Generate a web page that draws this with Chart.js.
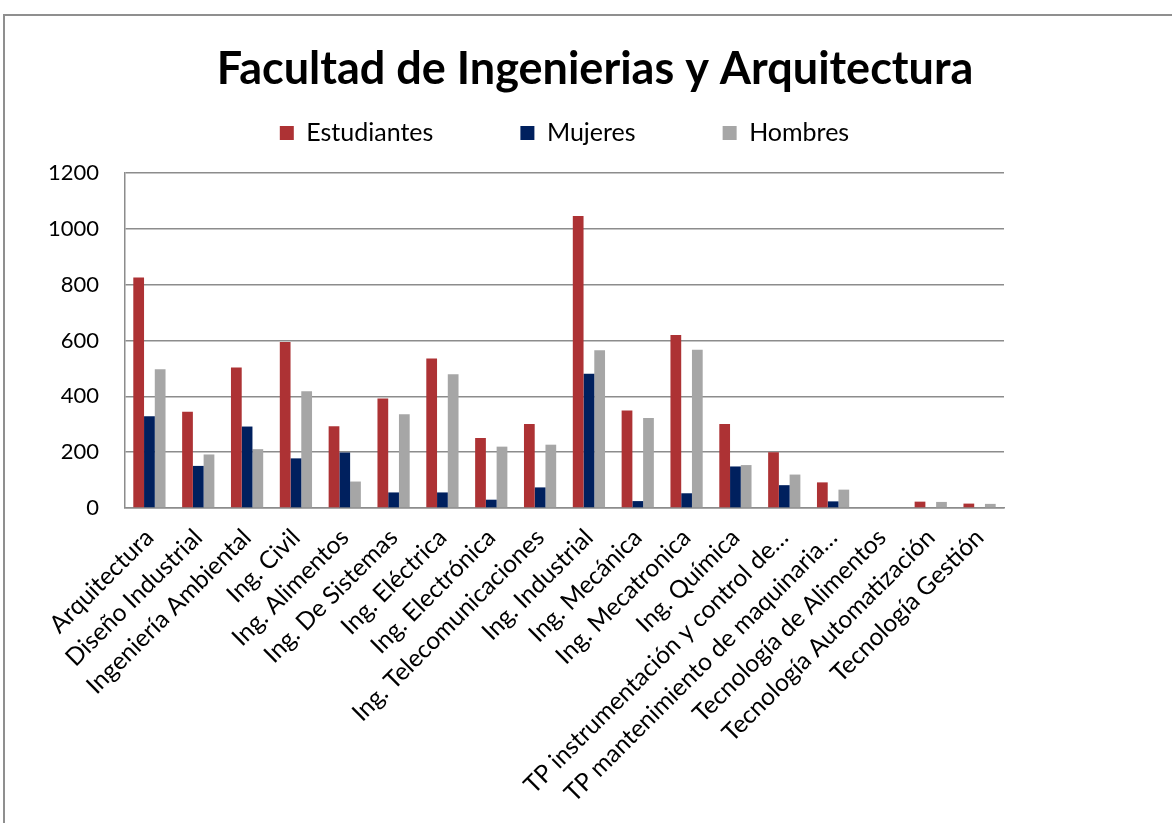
<!DOCTYPE html>
<html>
<head>
<meta charset="utf-8">
<script src="https://cdn.jsdelivr.net/npm/chart.js@4/dist/chart.umd.min.js"></script>
<style>
  html, body { margin: 0; padding: 0; background: #fff; overflow: hidden; }
  #frame { position: absolute; left: 3px; top: 14px; width: 1300px; height: 900px; border: 2px solid #8f8f8f; }
  #chart { position: absolute; left: 0; top: 0; }
</style>
</head>
<body>
<div id="frame"></div>
<canvas id="chart" width="1172" height="823"></canvas>
<script>
// --- Données ---
const carreras = [
  "Arquitectura", "Diseño Industrial", "Ingeniería Ambiental", "Ing. Civil",
  "Ing. Alimentos", "Ing. De Sistemas", "Ing. Eléctrica", "Ing. Electrónica",
  "Ing. Telecomunicaciones", "Ing. Industrial", "Ing. Mecánica", "Ing. Mecatronica",
  "Ing. Química", "TP instrumentación y control de…", "TP mantenimiento de maquinaria…",
  "Tecnología de Alimentos", "Tecnología Automatización", "Tecnología Gestión"
];
const estudiantes = [826, 345, 503, 595, 293, 392, 536, 251, 301, 1046, 349, 620, 301, 200, 92, 0, 23, 16];
const mujeres     = [329, 151, 292, 178, 199, 56, 56, 30, 74, 481, 25, 53, 149, 82, 24, 0, 0, 0];
const hombres     = [497, 192, 211, 418, 95, 336, 479, 220, 227, 565, 323, 567, 154, 120, 66, 0, 22, 15];
const yTicks = [0, 200, 400, 600, 800, 1000, 1200];

const FONT = "Lato, 'Open Sans', sans-serif";

new Chart(document.getElementById("chart"), {
  type: 'bar',
  data: {
    labels: carreras,
    datasets: [
      { label: 'Estudiantes', data: estudiantes, backgroundColor: '#ad3234' },
      { label: 'Mujeres', data: mujeres, backgroundColor: '#00205e' },
      { label: 'Hombres', data: hombres, backgroundColor: '#a6a6a6' }
    ]
  },
  options: {
    responsive: false,
    animation: false,
    layout: { padding: { left: 18, right: 0, top: 0, bottom: 0 } },
    datasets: { bar: { categoryPercentage: 0.66, barPercentage: 1.0 } },
    plugins: {
      title: {
        display: true,
        text: 'Facultad de Ingenierias y Arquitectura',
        color: '#000',
        font: { family: FONT, size: 45, weight: 'bold' },
        padding: { top: 42, bottom: -62.5 }
      },
      legend: {
        position: 'top',
        fullSize: false,
        labels: {
          color: '#000',
          font: { family: FONT, size: 25 },
          boxWidth: 14,
          boxHeight: 14,
          padding: 87
        }
      },
      tooltip: { enabled: false }
    },
    scales: {
      x: {
        grid: { display: false, drawTicks: false },
        border: { color: '#8c8c8c', width: 1.5 },
        ticks: {
          color: '#000',
          font: { family: FONT, size: 24.5 },
          autoSkip: false,
          minRotation: 45,
          maxRotation: 45,
          padding: 15
        }
      },
      xTop: {
        type: 'category',
        position: 'top',
        grid: { display: false },
        border: { display: false },
        ticks: { display: false },
        afterFit(s) { s.height = 17.5; }
      },
      y: {
        min: 0,
        max: 1200,
        afterBuildTicks(s) { s.ticks = yTicks.map(v => ({ value: v })); },
        grid: { color: '#8c8c8c', lineWidth: 1.5, drawTicks: false },
        border: { color: '#8c8c8c', width: 1.5 },
        ticks: {
          color: '#000',
          font: { family: FONT, size: 22 },
          padding: 26,
          callback: v => String(v)
        },
        afterFit(s) { s.width = 107; }
      },
      yR: {
        position: 'right',
        grid: { display: false },
        border: { display: false },
        ticks: { display: false },
        afterFit(s) { s.width = 168; }
      }
    }
  }
});
</script>
</body>
</html>
